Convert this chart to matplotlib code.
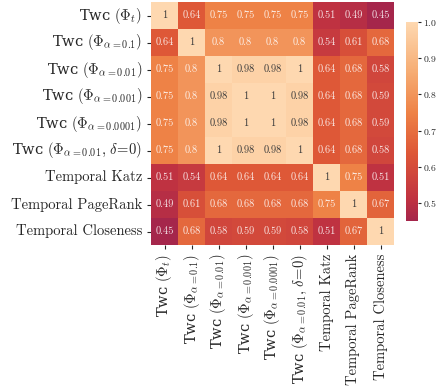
import numpy as np
import matplotlib
matplotlib.use("Agg")
import matplotlib.pyplot as plt
import seaborn as sns
from matplotlib.colors import LinearSegmentedColormap

labels = [
    "T\u1d21\u1d04 $(\\Phi_t)$",
    "T\u1d21\u1d04 $(\\Phi_{\\alpha=0.1})$",
    "T\u1d21\u1d04 $(\\Phi_{\\alpha=0.01})$",
    "T\u1d21\u1d04 $(\\Phi_{\\alpha=0.001})$",
    "T\u1d21\u1d04 $(\\Phi_{\\alpha=0.0001})$",
    "T\u1d21\u1d04 $(\\Phi_{\\alpha=0.01},\\,\\delta\\!=\\!0)$",
    "Temporal Katz",
    "Temporal PageRank",
    "Temporal Closeness",
]

corr = np.array([
    [1.00, 0.64, 0.75, 0.75, 0.75, 0.75, 0.51, 0.49, 0.45],
    [0.64, 1.00, 0.80, 0.80, 0.80, 0.80, 0.54, 0.61, 0.68],
    [0.75, 0.80, 1.00, 0.98, 0.98, 1.00, 0.64, 0.68, 0.58],
    [0.75, 0.80, 0.98, 1.00, 1.00, 0.98, 0.64, 0.68, 0.59],
    [0.75, 0.80, 0.98, 1.00, 1.00, 0.98, 0.64, 0.68, 0.59],
    [0.75, 0.80, 1.00, 0.98, 0.98, 1.00, 0.64, 0.68, 0.58],
    [0.51, 0.54, 0.64, 0.64, 0.64, 0.64, 1.00, 0.75, 0.51],
    [0.49, 0.61, 0.68, 0.68, 0.68, 0.68, 0.75, 1.00, 0.67],
    [0.45, 0.68, 0.58, 0.59, 0.59, 0.58, 0.51, 0.67, 1.00],
])

# colour stops sampled from the reference colour bar
cmap = LinearSegmentedColormap.from_list("peach", [
    (0.00, (165/255, 38/255, 75/255)),
    (0.11, (192/255, 50/255, 65/255)),
    (0.345, (222/255, 88/255, 55/255)),
    (0.545, (238/255, 130/255, 70/255)),
    (0.75, (246/255, 172/255, 115/255)),
    (1.00, (254/255, 216/255, 176/255)),
])

sns.set_style("ticks")
plt.rcParams["font.family"] = ["cmr10", "DejaVu Serif"]
plt.rcParams["mathtext.fontset"] = "cm"
plt.rcParams["axes.formatter.use_mathtext"] = True

fig = plt.figure(figsize=(4.38, 3.92), dpi=100)
W, H = 438, 392
ax = fig.add_axes([151 / W, 1 - 245 / H, 243 / W, 243 / H])
cax = fig.add_axes([406 / W, 1 - 221 / H, 12 / W, 199 / H])

sns.heatmap(corr, ax=ax, cbar_ax=cax, cmap=cmap, vmin=corr.min(), vmax=corr.max(),
            annot=False, xticklabels=labels, yticklabels=labels)

for i in range(corr.shape[0]):
    for j in range(corr.shape[1]):
        v = corr[i, j]
        light = v > 0.9
        ax.text(j + 0.5, i + 0.5, f"{v:.2g}", ha="center", va="center", fontsize=7.5,
                color="#3a3a3a" if light else "white", alpha=1.0 if light else 0.85)

ax.tick_params(axis="both", labelsize=10.5, length=3, width=0.8)
ax.set_xticklabels(labels, rotation=90)
ax.set_yticklabels(labels, rotation=0)
for t in ax.get_xticklabels() + ax.get_yticklabels():
    if t.get_text().startswith("T\u1d21"):
        t.set_fontfamily("DejaVu Serif")
        t.set_math_fontfamily("cm")

cax.tick_params(labelsize=7, length=2.5, width=0.8, pad=1)
for s in cax.spines.values():
    s.set_visible(False)

fig.savefig("out.png", dpi=100)
